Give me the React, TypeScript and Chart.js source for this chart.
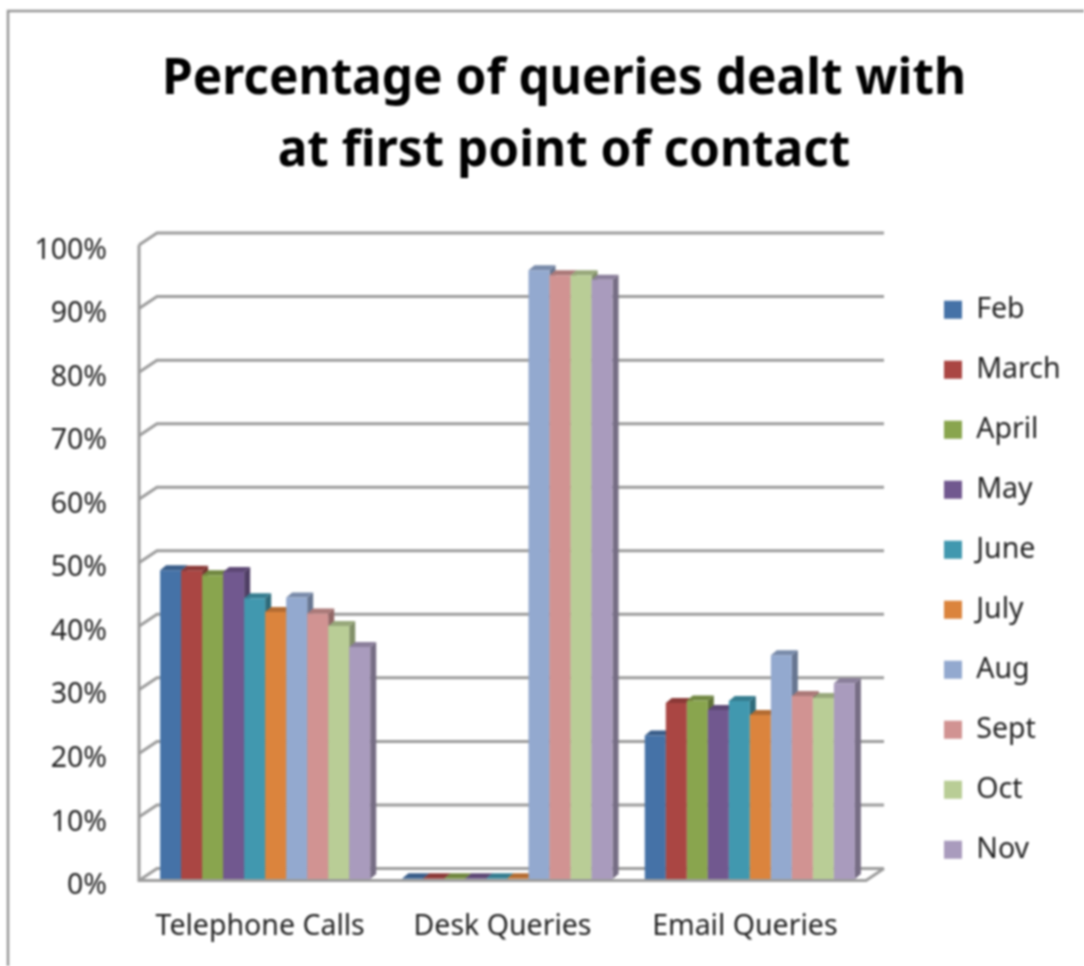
import React, { useEffect, useRef } from "react";
import { Chart, registerables } from "chart.js";

Chart.register(...registerables);

const categories = ["Telephone Calls", "Desk Queries", "Email Queries"];
const months = ["Feb", "March", "April", "May", "June", "July", "Aug", "Sept", "Oct", "Nov"];
const feb = [48.6, 0.1, 22.6];
const march = [48.5, 0.1, 27.7];
const april = [47.8, 0.1, 28.1];
const may = [48.3, 0.1, 26.6];
const june = [44.2, 0.1, 28];
const july = [42, 0.1, 25.8];
const aug = [44.3, 95.8, 35.2];
const sept = [41.8, 95, 28.8];
const oct = [39.8, 95, 28.5];
const nov = [36.5, 94.3, 30.8];
const seriesValues = [feb, march, april, may, june, july, aug, sept, oct, nov];
const colors = ["#4572A7", "#AA4643", "#89A54E", "#71588F", "#4198AF", "#DB843D", "#93A9CF", "#D19392", "#B9CD96", "#A99BBD"];
const yTicks = [0, 10, 20, 30, 40, 50, 60, 70, 80, 90, 100];

const FONT = "'Noto Sans'";
const GRID = "#9c9c9c";
const TEXT = "#222222";

function shade(hex: string, k: number) {
  const n = parseInt(hex.slice(1), 16);
  const c = (s: number) => Math.round(((n >> s) & 255) * k);
  return `rgb(${c(16)},${c(8)},${c(0)})`;
}

const chart3d = {
  id: "chart3d",
  beforeLayout(chart: any) {
    const l = chart.legend;
    if (l && !l.__wrapped) {
      const fit = l.fit;
      l.fit = function () {
        fit.call(this);
        this.width = 213;
      };
      l.__wrapped = true;
    }
  },
  afterLayout(chart: any) {
    const l = chart.legend;
    const h = l.height;
    l.left = 912.5;
    l.right = 1084;
    l.width = 171.5;
    l.top = 264;
    l.bottom = 264 + h;
    const t = chart.titleBlock;
    t.left = 44;
    t.right = 1084;
    t.width = 1040;
  },
  beforeDraw(chart: any) {
    const { ctx } = chart;
    ctx.save();
    ctx.strokeStyle = "#969696";
    ctx.lineWidth = 2.5;
    ctx.beginPath();
    ctx.moveTo(8, 966);
    ctx.lineTo(8, 11);
    ctx.lineTo(1084, 11);
    ctx.stroke();
    ctx.restore();
  },
  beforeDatasetsDraw(chart: any) {
    const { ctx, chartArea: a, scales } = chart;
    const y = scales.y;
    const fx = a.left - 5;
    const bx = a.left + 13;
    const rx = a.right + 13;
    ctx.save();
    ctx.strokeStyle = GRID;
    ctx.lineWidth = 3;
    yTicks.forEach((v) => {
      const p = y.getPixelForValue(v);
      ctx.beginPath();
      ctx.moveTo(fx, p + 1.5);
      ctx.lineTo(bx, p - 10.5);
      ctx.lineTo(rx, p - 10.5);
      ctx.stroke();
    });
    const p0 = y.getPixelForValue(0);
    const p100 = y.getPixelForValue(100);
    ctx.beginPath();
    ctx.moveTo(fx, p100 + 1.5);
    ctx.lineTo(fx, p0 + 1.5);
    ctx.lineTo(rx - 18, p0 + 1.5);
    ctx.lineTo(rx, p0 - 10.5);
    ctx.stroke();
    ctx.restore();

    // Bars are drawn left to right, each with its 3D faces from its own scaled geometry.
    const dx = 6;
    const dy = 5;
    chart.data.datasets.forEach((ds: any, i: number) => {
      const meta = chart.getDatasetMeta(i);
      meta.data.forEach((bar: any) => {
        const { x, y: top, base, width } = bar.getProps(["x", "y", "base", "width"], true);
        const l = x - width / 2;
        const r = x + width / 2;
        ctx.fillStyle = shade(ds.backgroundColor, 0.7);
        ctx.beginPath();
        ctx.moveTo(r, top);
        ctx.lineTo(r + dx, top - dy);
        ctx.lineTo(r + dx, base - dy);
        ctx.lineTo(r, base);
        ctx.closePath();
        ctx.fill();
        ctx.fillStyle = shade(ds.backgroundColor, 0.82);
        ctx.beginPath();
        ctx.moveTo(l, top);
        ctx.lineTo(l + dx, top - dy);
        ctx.lineTo(r + dx, top - dy);
        ctx.lineTo(r, top);
        ctx.closePath();
        ctx.fill();
      });
      meta.controller.draw();
    });
    return false;
  },
};

export default function App() {
  const ref = useRef<HTMLCanvasElement>(null);
  useEffect(() => {
    const chart = new Chart(ref.current!, {
      type: "bar",
      data: {
        labels: categories,
        datasets: months.map((m, i) => ({
          label: m,
          data: seriesValues[i],
          backgroundColor: colors[i],
          categoryPercentage: 0.867,
          barPercentage: 1,
        })),
      },
      plugins: [chart3d],
      options: {
        responsive: false,
        animation: false,
        layout: { padding: 0 },
        plugins: {
          tooltip: { enabled: false },
          title: {
            display: true,
            text: ["Percentage of queries dealt with", "at first point of contact"],
            color: "#000000",
            font: { family: FONT, size: 49.5, weight: "bold", lineHeight: 1.46 },
            padding: { top: 44, bottom: 55 },
          },
          legend: {
            position: "right",
            align: "start",
            labels: {
              color: TEXT,
              font: { family: FONT, size: 28.5 },
              boxWidth: 18,
              boxHeight: 18,
              padding: 31.5,
            },
          },
        },
        scales: {
          x: {
            grid: { display: false, drawTicks: false },
            border: { display: false },
            ticks: {
              color: TEXT,
              font: { family: FONT, size: 28.5 },
              padding: 31,
              labelOffset: -5,
              maxRotation: 0,
            },
            afterFit(s: any) {
              s.height = 87;
            },
          },
          y: {
            min: 0,
            max: 100,
            grid: { display: false, drawTicks: false },
            border: { display: false },
            ticks: {
              stepSize: 10,
              color: TEXT,
              font: { family: FONT, size: 28.5 },
              padding: 37,
              labelOffset: 7,
              callback: (v: any) => `${v}%`,
            },
            afterFit(s: any) {
              s.width = 144;
            },
          },
        },
      },
    } as any);
    return () => chart.destroy();
  }, []);
  return (
    <canvas
      ref={ref}
      width={1084}
      height={966}
      style={{ position: "absolute", left: 0, top: 0, width: 1084, height: 966, filter: "blur(0.9px)" }}
    />
  );
}
